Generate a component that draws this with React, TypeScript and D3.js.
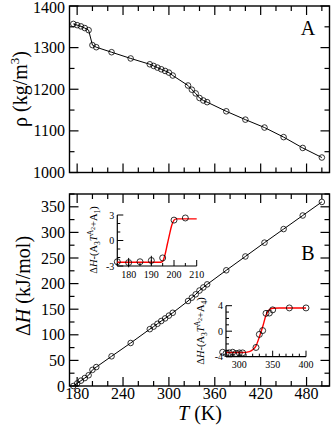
import React from 'react';
import * as d3 from 'd3';

// ---- data ----
const temps = [175, 180, 185, 190, 195, 200, 205, 225, 250, 275, 280, 285, 290, 295, 300, 305, 325, 330, 335, 340, 345, 350, 375, 400, 425, 450, 475, 500];
const density = [1357, 1354, 1351, 1347, 1342, 1306, 1301, 1289, 1274, 1260, 1256, 1252, 1248, 1244, 1240, 1233, 1209, 1199, 1190, 1179, 1173, 1169, 1147, 1127, 1108, 1085, 1059, 1036];
const enthalpy = [0, 5, 10.5, 15.5, 21, 31.5, 37, 58, 84, 111, 116, 121.5, 127, 132, 137.5, 143, 166, 172.5, 179, 186.5, 192.5, 198.5, 226, 253, 280, 306.5, 333, 359.5];

const inset1T = [175, 180, 185, 190, 195, 200, 205];
const inset1Res = [-2.5, -2.6, -2.5, -2.35, -2.05, 2.4, 2.65];
const inset1Err = [0, 0.55, 0, 0.55, 0, 0, 0];
const inset1FitT = [175, 194, 195, 196, 197, 198, 199, 200, 201, 210];
const inset1FitY = [-2.55, -2.55, -2.45, -1.7, -0.5, 0.7, 1.8, 2.4, 2.55, 2.55];

const inset2T = [275, 280, 285, 290, 295, 300, 305, 325, 330, 335, 340, 345, 350, 375, 400];
const inset2Res = [-3.3, -3.5, -3.4, -3.3, -3.5, -3.4, -3.4, -2.55, -0.5, 0.1, 2.8, 2.85, 3.35, 3.65, 3.65];
const inset2FitT = [280, 305, 315, 320, 325, 330, 335, 340, 345, 350, 360, 400];
const inset2FitY = [-3.35, -3.35, -3.2, -2.9, -2.3, -0.9, 0.7, 2.5, 3.35, 3.6, 3.65, 3.65];

const xTickLabels = [180, 240, 300, 360, 420, 480];
const rhoTickLabels = [1000, 1100, 1200, 1300, 1400];
const dhTickLabels = [0, 50, 100, 150, 200, 250, 300, 350];

const FONT = '"Liberation Serif", "Times New Roman", serif';

export default function App() {
  const x = d3.scaleLinear().domain([170, 510]).range([69.5, 329.5]);
  const yTop = d3.scaleLinear().domain([1000, 1400]).range([172.5, 6]);
  const yBot = d3.scaleLinear().domain([0, 375]).range([386, 194]);

  const ix1 = d3.scaleLinear().domain([175, 210]).range([117.3, 196.7]);
  const iy1 = d3.scaleLinear().domain([-3, 3]).range([266, 215]);
  const ix2 = d3.scaleLinear().domain([280, 400]).range([226, 306]);
  const iy2 = d3.scaleLinear().domain([-4, 4]).range([356.7, 305.7]);

  const lineTop = d3.line<number>().x((_, i) => x(temps[i])).y((d) => yTop(d));
  const lineBot = d3.line<number>().x((_, i) => x(temps[i])).y((d) => yBot(d));
  const fit1 = d3.line<number>().x((_, i) => ix1(inset1FitT[i])).y((d) => iy1(d)).curve(d3.curveMonotoneX);
  const fit2 = d3.line<number>().x((_, i) => ix2(inset2FitT[i])).y((d) => iy2(d)).curve(d3.curveMonotoneX);

  const xTicks = d3.range(180, 501, 20);
  const rhoTicks = d3.range(1000, 1401, 50);
  const dhTicks = d3.range(0, 376, 25);

  const MAJ = 9, MIN = 5;
  const frameW = 1.4;

  const panel = (
    y: d3.ScaleLinear<number, number>,
    yTicks: number[],
    isMajorY: (v: number) => boolean,
    key: string
  ) => {
    const [y0, y1] = y.range();
    const [x0, x1] = x.range();
    return (
      <g key={key}>
        <rect x={x0} y={y1} width={x1 - x0} height={y0 - y1} fill="none" stroke="#000" strokeWidth={frameW} />
        {xTicks.map((t) => {
          const len = (t - 180) % 60 === 0 ? MAJ : MIN;
          return (
            <g key={'xt' + t}>
              <line x1={x(t)} x2={x(t)} y1={y0} y2={y0 - len} stroke="#000" strokeWidth={1.2} />
              <line x1={x(t)} x2={x(t)} y1={y1} y2={y1 + len} stroke="#000" strokeWidth={1.2} />
            </g>
          );
        })}
        {yTicks.map((v) => {
          const len = isMajorY(v) ? MAJ : MIN;
          return (
            <g key={'yt' + v}>
              <line x1={x0} x2={x0 + len} y1={y(v)} y2={y(v)} stroke="#000" strokeWidth={1.2} />
              <line x1={x1} x2={x1 - len} y1={y(v)} y2={y(v)} stroke="#000" strokeWidth={1.2} />
            </g>
          );
        })}
      </g>
    );
  };

  const insetAxes = (
    sx: d3.ScaleLinear<number, number>,
    sy: d3.ScaleLinear<number, number>,
    xt: number[],
    xMajor: (v: number) => boolean,
    xLabels: number[],
    yt: number[],
    yMajor: (v: number) => boolean,
    yLabels: number[],
    key: string
  ) => {
    const [x0, x1] = sx.range();
    const [y0, y1] = sy.range();
    return (
      <g key={key}>
        <line x1={x0} x2={x1} y1={y0} y2={y0} stroke="#000" strokeWidth={1.2} />
        <line x1={x0} x2={x0} y1={y0} y2={y1} stroke="#000" strokeWidth={1.2} />
        {xt.map((t) => (
          <line key={'x' + t} x1={sx(t)} x2={sx(t)} y1={y0} y2={y0 - (xMajor(t) ? 6 : 3)} stroke="#000" strokeWidth={1} />
        ))}
        {yt.map((t) => (
          <line key={'y' + t} x1={x0} x2={x0 + (yMajor(t) ? 6 : 3)} y1={sy(t)} y2={sy(t)} stroke="#000" strokeWidth={1} />
        ))}
        {xLabels.map((t) => (
          <text key={'xl' + t} x={sx(t)} y={y0 + 11.5} fontSize={10} textAnchor="middle" fontFamily={FONT}>{t}</text>
        ))}
        {yLabels.map((t) => (
          <text key={'yl' + t} x={x0 - 3} y={sy(t) + 3.5} fontSize={10} textAnchor="end" fontFamily={FONT}>{t}</text>
        ))}
      </g>
    );
  };

  const insetYLabel = (tx: number, ty: number, last: string, key: string) => (
    <text key={key} transform={`translate(${tx},${ty}) rotate(-90)`} textAnchor="middle" fontSize={10.5} fontFamily={FONT}>
      <tspan>Δ</tspan>
      <tspan fontStyle="italic">H</tspan>
      <tspan>-(A</tspan>
      <tspan fontSize={7.5} dy={2.5}>3</tspan>
      <tspan fontStyle="italic" dy={-2.5}>T</tspan>
      <tspan fontSize={7.5} dy={-4}>A</tspan>
      <tspan fontSize={6} dy={2}>2</tspan>
      <tspan dy={2}>+A</tspan>
      <tspan fontSize={7.5} dy={2.5}>{last}</tspan>
      <tspan dy={-2.5}>)</tspan>
    </text>
  );

  return (
    <svg width={332} height={425} style={{ position: 'absolute', left: 0, top: 0, background: '#fff' }} fontFamily={FONT}>
      <rect x={0} y={0} width={332} height={425} fill="#fff" />
      {panel(yTop, rhoTicks, (v) => v % 100 === 0, 'top')}
      {panel(yBot, dhTicks, (v) => v % 50 === 0, 'bot')}

      {/* top panel data */}
      <path d={lineTop(density) || ''} fill="none" stroke="#000" strokeWidth={1} />
      {density.map((d, i) => (
        <circle key={'pt' + i} cx={x(temps[i])} cy={yTop(d)} r={2.8} fill="none" stroke="#000" strokeWidth={0.8} />
      ))}

      {/* bottom panel data */}
      <path d={lineBot(enthalpy) || ''} fill="none" stroke="#000" strokeWidth={1} />
      {enthalpy.map((d, i) => (
        <circle key={'pb' + i} cx={x(temps[i])} cy={yBot(d)} r={2.8} fill="none" stroke="#000" strokeWidth={0.8} />
      ))}

      {/* tick labels */}
      {rhoTickLabels.map((v) => (
        <text key={'rl' + v} x={65} y={Math.max(yTop(v) + 5.5, 13)} fontSize={16} textAnchor="end">{v}</text>
      ))}
      {dhTickLabels.map((v) => (
        <text key={'dl' + v} x={65} y={yBot(v) + 5.5} fontSize={16} textAnchor="end">{v}</text>
      ))}
      {xTickLabels.map((v) => (
        <text key={'xl' + v} x={x(v)} y={399} fontSize={16} textAnchor="middle">{v}</text>
      ))}

      {/* axis titles */}
      <text transform="translate(27,89) rotate(-90)" textAnchor="middle" fontSize={20}>
        <tspan>ρ (kg/m</tspan>
        <tspan fontSize={13} dy={-8}>3</tspan>
        <tspan dy={8}>)</tspan>
      </text>
      <text transform="translate(30,286) rotate(-90)" textAnchor="middle" fontSize={20}>
        <tspan>Δ</tspan>
        <tspan fontStyle="italic">H</tspan>
        <tspan> (kJ/mol)</tspan>
      </text>
      <text x={200} y={420} textAnchor="middle" fontSize={20}>
        <tspan fontStyle="italic">T</tspan>
        <tspan> (K)</tspan>
      </text>
      <text x={308} y={35} textAnchor="middle" fontSize={20}>A</text>
      <text x={308} y={260} textAnchor="middle" fontSize={20}>B</text>

      {/* inset 1 */}
      {insetAxes(ix1, iy1, d3.range(175, 211, 5), (t) => t % 10 === 0, [180, 190, 200, 210], d3.range(-3, 4, 1), (t) => t % 3 === 0, [3, 0, -3], 'in1')}
      <path d={fit1(inset1FitY) || ''} fill="none" stroke="#ff0000" strokeWidth={1.4} />
      {inset1Res.map((d, i) => (
        <g key={'i1' + i}>
          {inset1Err[i] > 0 && (
            <line x1={ix1(inset1T[i])} x2={ix1(inset1T[i])} y1={iy1(d - inset1Err[i])} y2={iy1(d + inset1Err[i])} stroke="#000" strokeWidth={1} />
          )}
          <circle cx={ix1(inset1T[i])} cy={iy1(d)} r={3} fill="none" stroke="#000" strokeWidth={0.8} />
        </g>
      ))}
      {insetYLabel(97, 240, '1', 'yl1')}

      {/* inset 2 */}
      {insetAxes(ix2, iy2, d3.range(280, 401, 10), (t) => t % 50 === 0, [300, 350, 400], d3.range(-4, 5, 1), (t) => t % 4 === 0, [4, 0, -4], 'in2')}
      <path d={fit2(inset2FitY) || ''} fill="none" stroke="#ff0000" strokeWidth={1.4} />
      {inset2Res.map((d, i) => (
        <circle key={'i2' + i} cx={ix2(inset2T[i])} cy={iy2(d)} r={3} fill="none" stroke="#000" strokeWidth={0.8} />
      ))}
      {insetYLabel(204, 331, '4', 'yl2')}
    </svg>
  );
}
